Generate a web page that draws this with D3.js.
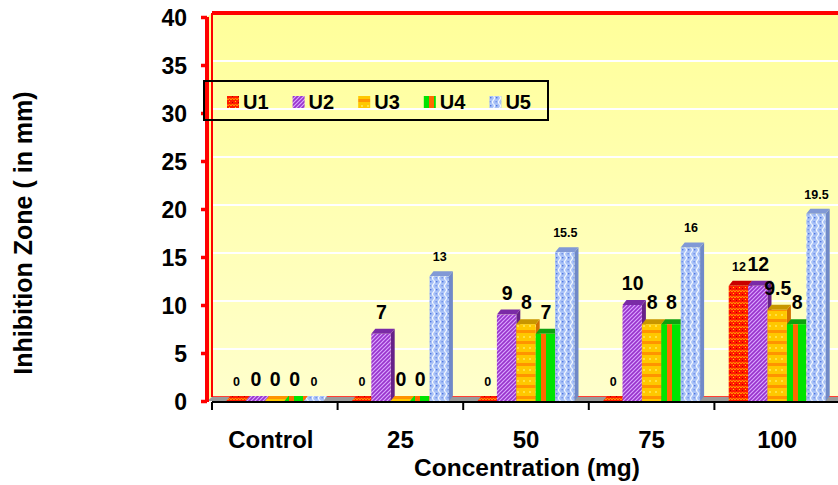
<!DOCTYPE html>
<html>
<head>
<meta charset="utf-8">
<script src="https://cdn.jsdelivr.net/npm/d3@7"></script>
<style>
  html, body { margin: 0; padding: 0; background: #fff; }
  svg { display: block; font-family: "Liberation Sans", Arial, sans-serif; font-weight: bold; }
</style>
</head>
<body>
<svg id="chart" width="838" height="485"></svg>
<script>
// ---- data ----
const categories = ["Control", "25", "50", "75", "100"];
const seriesNames = ["U1", "U2", "U3", "U4", "U5"];
const U1 = [0, 0, 0, 0, 12];
const U2 = [0, 7, 9, 10, 12];
const U3 = [0, 0, 8, 8, 9.5];
const U4 = [0, 0, 7, 8, 8];
const U5 = [0, 13, 15.5, 16, 19.5];
const yTicks = [0, 5, 10, 15, 20, 25, 30, 35, 40];
const xTitle = "Concentration (mg)";
const yTitle = "Inhibition Zone ( in mm)";

const seriesValues = [U1, U2, U3, U4, U5];

// ---- layout ----
const svg = d3.select("#chart");
const W = 838, H = 485;
const plotLeft = 212, plotRight = 840;
const yFront0 = 401, yFront40 = 17;
const wallDx = 5, wallDy = 4;     // back-wall offset
const barDx = 4, barDy = 5;       // bar depth

const y = d3.scaleLinear().domain([0, 40]).range([yFront0, yFront40]);
const x0 = d3.scaleBand().domain(categories).range([plotLeft, plotRight]).padding(0);
const groupPad = 14.3;
const x1 = d3.scaleBand().domain(seriesNames).range([groupPad, x0.bandwidth() - groupPad]).padding(0);

// ---- defs: gradients & patterns ----
const defs = svg.append("defs");
const bg = defs.append("linearGradient").attr("id", "bgGrad").attr("x1", 0).attr("y1", 0).attr("x2", 0).attr("y2", 1);
bg.append("stop").attr("offset", "0%").attr("stop-color", "#FFFF9A");
bg.append("stop").attr("offset", "100%").attr("stop-color", "#FFFFCC");

// U1: red with orange zigzag
const p1 = defs.append("pattern").attr("id", "pU1").attr("patternUnits", "userSpaceOnUse").attr("width", 6).attr("height", 6);
p1.append("rect").attr("width", 6).attr("height", 6).attr("fill", "#FF1A00");
p1.append("path").attr("d", "M0 4 L1.5 2 L3 4 L4.5 2 L6 4").attr("fill", "none").attr("stroke", "#FFA000").attr("stroke-width", 1);
p1.append("rect").attr("x", 1).attr("y", 5).attr("width", 1).attr("height", 1).attr("fill", "#FFD000");
p1.append("rect").attr("x", 4).attr("y", 0).attr("width", 1).attr("height", 1).attr("fill", "#B00000");

// U2: purple diagonal stripes
const p2 = defs.append("pattern").attr("id", "pU2").attr("patternUnits", "userSpaceOnUse").attr("width", 4).attr("height", 4);
p2.append("rect").attr("width", 4).attr("height", 4).attr("fill", "#9933CC");
p2.append("path").attr("d", "M-1 1 L1 -1 M0 4 L4 0 M3 5 L5 3").attr("stroke", "#D9A6FF").attr("stroke-width", 1.2);

// U3: yellow with orange horizontal bands
const p3 = defs.append("pattern").attr("id", "pU3").attr("patternUnits", "userSpaceOnUse").attr("width", 6).attr("height", 11);
p3.append("rect").attr("width", 6).attr("height", 11).attr("fill", "#FFC800");
p3.append("rect").attr("y", 0).attr("width", 6).attr("height", 3).attr("fill", "#FF9400");
p3.append("rect").attr("x", 1).attr("y", 6).attr("width", 2).attr("height", 2).attr("fill", "#FFE040");

// U4: green & orange vertical stripes
const p4 = defs.append("pattern").attr("id", "pU4").attr("patternUnits", "userSpaceOnUse").attr("width", 14).attr("height", 6);
p4.append("rect").attr("width", 14).attr("height", 6).attr("fill", "#00E400");
p4.append("rect").attr("x", 9).attr("width", 5).attr("height", 6).attr("fill", "#FF6A00");

// U5: light blue with white waves
const p5 = defs.append("pattern").attr("id", "pU5").attr("patternUnits", "userSpaceOnUse").attr("width", 6).attr("height", 8);
p5.append("rect").attr("width", 6).attr("height", 8).attr("fill", "#A9C2F7");
p5.append("path").attr("d", "M1.5 0 Q3.5 2 1.5 4 Q-0.5 6 1.5 8").attr("fill", "none").attr("stroke", "#F4F8FF").attr("stroke-width", 1.1);
p5.append("rect").attr("x", 4).attr("y", 1).attr("width", 1.4).attr("height", 1.4).attr("fill", "#4F74E0");
p5.append("rect").attr("x", 3.5).attr("y", 5).attr("width", 1.4).attr("height", 1.4).attr("fill", "#6F8FEA");

const fills = ["url(#pU1)", "url(#pU2)", "url(#pU3)", "url(#pU4)", "url(#pU5)"];
const tops  = ["#C80000", "#7A2AA6", "#C89600", "#10A010", "#8199D6"];
const sides = ["#A00000", "#662288", "#D07000", "#E05A00", "#7089C8"];

// ---- back wall ----
const wallTop = y(40) - wallDy, wallBottom = y(0) - wallDy;
const wallLeft = plotLeft + 0;
svg.append("rect")
  .attr("x", wallLeft).attr("y", wallTop)
  .attr("width", W - wallLeft + 10).attr("height", wallBottom - wallTop)
  .attr("fill", "url(#bgGrad)");

// gridlines on back wall
svg.append("g").selectAll("line")
  .data(yTicks.filter(d => d > 0 && d < 40))
  .join("line")
  .attr("x1", wallLeft).attr("x2", W + 10)
  .attr("y1", d => y(d) - wallDy).attr("y2", d => y(d) - wallDy)
  .attr("stroke", "#FFFFFF").attr("stroke-width", 2);

// red top border of wall
svg.append("line")
  .attr("x1", wallLeft).attr("x2", W + 10)
  .attr("y1", wallTop).attr("y2", wallTop)
  .attr("stroke", "#FF0000").attr("stroke-width", 4);
// red bottom border of wall
svg.append("line")
  .attr("x1", wallLeft).attr("x2", W + 10)
  .attr("y1", wallBottom).attr("y2", wallBottom)
  .attr("stroke", "#FF0000").attr("stroke-width", 1.5);

// left side wall
const axisX = wallLeft - wallDx;
svg.append("polygon")
  .attr("points", [[axisX, y(40)], [wallLeft, wallTop], [wallLeft, wallBottom], [axisX, y(0)]].map(p => p.join(",")).join(" "))
  .attr("fill", "#FFFF9A").attr("stroke", "none");
svg.append("line")
  .attr("x1", wallLeft).attr("x2", wallLeft)
  .attr("y1", wallTop).attr("y2", wallBottom)
  .attr("stroke", "#FF0000").attr("stroke-width", 2);

// floor
svg.append("polygon")
  .attr("points", [[axisX, y(0)], [wallLeft, wallBottom], [W + 10, wallBottom], [W + 10, y(0)]].map(p => p.join(",")).join(" "))
  .attr("fill", "#9A9A9A");

// ---- bars ----
const barsG = svg.append("g");
categories.forEach((cat, ci) => {
  seriesNames.forEach((s, si) => {
    const v = seriesValues[si][ci];
    const bx = x0(cat) + x1(s);
    const bw = x1.bandwidth();
    const by = y(v);
    const b0 = y(0);
    const g = barsG.append("g");
    // side face
    g.append("polygon")
      .attr("points", [[bx + bw, by], [bx + bw + barDx, by - barDy], [bx + bw + barDx, b0 - barDy], [bx + bw, b0]].map(p => p.join(",")).join(" "))
      .attr("fill", sides[si]);
    // top face
    g.append("polygon")
      .attr("points", [[bx, by], [bx + barDx, by - barDy], [bx + bw + barDx, by - barDy], [bx + bw, by]].map(p => p.join(",")).join(" "))
      .attr("fill", v === 0 ? fills[si] : tops[si]);
    // front face
    if (v > 0) {
      g.append("rect")
        .attr("x", bx).attr("y", by)
        .attr("width", bw).attr("height", b0 - by)
        .attr("fill", fills[si]);
    }
  });
});

// ---- left axis (red) ----
svg.append("line")
  .attr("x1", axisX).attr("x2", axisX)
  .attr("y1", y(40)).attr("y2", y(0) + 1)
  .attr("stroke", "#FF0000").attr("stroke-width", 4);
const yAxis = d3.axisLeft(y).tickValues(yTicks).tickSize(6).tickPadding(14).tickFormat(d3.format("d"));
const yAx = svg.append("g").attr("transform", `translate(${axisX},0)`).call(yAxis);
yAx.select(".domain").remove();
yAx.selectAll(".tick line").attr("stroke", "#FF0000").attr("stroke-width", 3.5);
yAx.selectAll(".tick text")
  .attr("font-family", "'Liberation Sans', Arial, sans-serif")
  .attr("font-weight", "bold")
  .attr("font-size", 23)
  .attr("fill", "#000")
  .attr("dy", "0.36em");

// ---- bottom axis (black) ----
svg.append("line")
  .attr("x1", plotLeft).attr("x2", W + 10)
  .attr("y1", 402).attr("y2", 402)
  .attr("stroke", "#000").attr("stroke-width", 2);
svg.append("g").selectAll("line")
  .data(categories.map(c => x0(c)).concat([plotRight]))
  .join("line")
  .attr("x1", d => d).attr("x2", d => d)
  .attr("y1", 402).attr("y2", 410)
  .attr("stroke", "#000").attr("stroke-width", 2);
svg.append("g").selectAll("text")
  .data(categories)
  .join("text")
  .attr("x", d => x0(d) + x0.bandwidth() / 2 - (d === "Control" ? 4 : 0))
  .attr("y", 448)
  .attr("text-anchor", "middle")
  .attr("font-size", 24)
  .attr("fill", "#000")
  .text(d => d);

// ---- titles ----
svg.append("text")
  .attr("x", 527).attr("y", 476)
  .attr("text-anchor", "middle")
  .attr("font-size", 24.5)
  .attr("fill", "#000")
  .text(xTitle);
svg.append("text")
  .attr("transform", "translate(32,233) rotate(-90)")
  .attr("text-anchor", "middle")
  .attr("font-size", 25)
  .attr("fill", "#000")
  .text(yTitle);

// ---- value labels ----
const labelsG = svg.append("g");
categories.forEach((cat, ci) => {
  seriesNames.forEach((s, si) => {
    const v = seriesValues[si][ci];
    const small = (si === 0 || si === 4);
    labelsG.append("text")
      .attr("x", x0(cat) + x1(s) + x1.bandwidth() / 2 + 0.5)
      .attr("y", y(v) - 15)
      .attr("text-anchor", "middle")
      .attr("font-size", small ? 12.5 : 19.5)
      .attr("fill", "#000")
      .text(v);
  });
});

// ---- legend ----
const leg = svg.append("g");
leg.append("rect")
  .attr("x", 204).attr("y", 81).attr("width", 344).attr("height", 39)
  .attr("fill", "none").attr("stroke", "#000").attr("stroke-width", 2);
seriesNames.forEach((s, i) => {
  const lx = 227 + i * 65.6;
  leg.append("rect")
    .attr("x", lx).attr("y", 96).attr("width", 12).attr("height", 12)
    .attr("fill", fills[i]);
  leg.append("text")
    .attr("x", lx + 16).attr("y", 109)
    .attr("font-size", 20)
    .attr("fill", "#000")
    .text(s);
});
</script>
</body>
</html>
